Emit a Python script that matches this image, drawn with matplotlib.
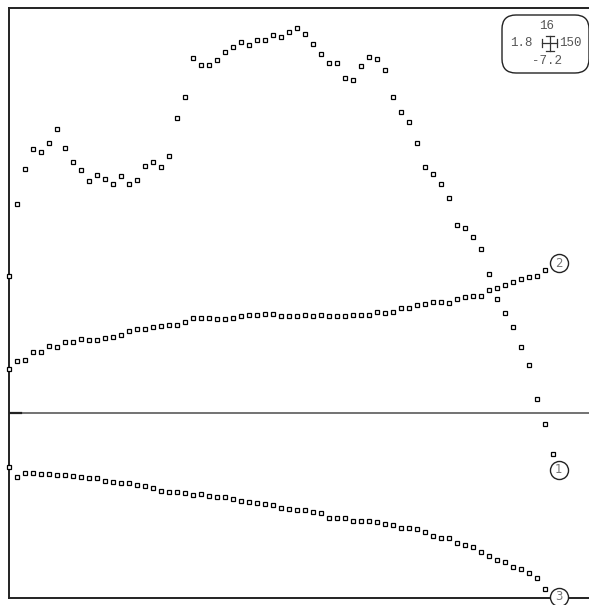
import matplotlib
matplotlib.use("Agg")
import matplotlib.pyplot as plt
from matplotlib.patches import FancyBboxPatch
import numpy as np

# values (regular index spacing on x)
series_1 = [5.41, 8.26, 9.64, 10.43, 10.32, 10.67, 11.23, 10.47, 9.92, 9.60,
            9.17, 9.41, 9.25, 9.05, 9.37, 9.05, 9.21, 9.76, 9.92, 9.72,
            10.16, 11.66, 12.49, 14.03, 13.75, 13.75, 13.95, 14.27, 14.47, 14.66,
            14.55, 14.74, 14.74, 14.94, 14.86, 15.06, 15.22, 14.98, 14.58, 14.19,
            13.83, 13.83, 13.24, 13.16, 13.72, 14.07, 13.99, 13.56, 12.49, 11.90,
            11.52, 10.67, 9.72, 9.45, 9.05, 8.50, 7.43, 7.31, 6.96, 6.48,
            5.49, 4.51, 3.95, 3.40, 2.61, 1.90, 0.55, -0.43, -1.62]
series_2 = [1.74, 2.06, 2.09, 2.41, 2.41, 2.65, 2.61, 2.81, 2.81, 2.92,
            2.89, 2.89, 2.96, 3.00, 3.08, 3.24, 3.32, 3.32, 3.40, 3.44,
            3.48, 3.48, 3.60, 3.75, 3.75, 3.75, 3.72, 3.72, 3.75, 3.83,
            3.87, 3.87, 3.91, 3.91, 3.83, 3.83, 3.83, 3.87, 3.83, 3.87,
            3.83, 3.83, 3.83, 3.87, 3.87, 3.87, 3.99, 3.95, 3.99, 4.15,
            4.15, 4.27, 4.31, 4.39, 4.39, 4.35, 4.51, 4.58, 4.62, 4.62,
            4.86, 4.94, 5.06, 5.18, 5.30, 5.38, 5.41, 5.65]
series_3 = [-2.13, -2.53, -2.37, -2.37, -2.41, -2.41, -2.45, -2.45, -2.49, -2.53,
            -2.57, -2.57, -2.69, -2.73, -2.77, -2.77, -2.85, -2.89, -2.96, -3.08,
            -3.12, -3.12, -3.16, -3.24, -3.20, -3.28, -3.32, -3.32, -3.40, -3.48,
            -3.52, -3.56, -3.60, -3.64, -3.75, -3.79, -3.83, -3.83, -3.91, -3.95,
            -4.15, -4.15, -4.15, -4.27, -4.27, -4.27, -4.31, -4.39, -4.43, -4.55,
            -4.55, -4.58, -4.70, -4.86, -4.94, -4.94, -5.14, -5.22, -5.30, -5.49,
            -5.65, -5.81, -5.89, -6.09, -6.17, -6.32, -6.52, -6.96]
series_labels = ["1", "2", "3"]
label_y = [-2.25, 5.93, -7.27]
scale_texts = ["16", "1.8", "150", "-7.2"]

W, H = 589, 605
fig = plt.figure(figsize=(W / 100, H / 100), dpi=100)
ax = fig.add_axes([9 / W, 7 / H, (W - 9) / W, 590 / H])

for ys in (series_1, series_2, series_3):
    ax.plot(np.arange(len(ys)), ys, "s", ms=3.5, mfc="white", mec="black",
            mew=0.9, clip_on=False, zorder=3)

ax.axhline(0, color="#5a5a5a", lw=1.2, zorder=1)
ax.plot([0, 1.5], [0, 0], color="#222222", lw=1.6, zorder=2)

# circled series numbers at the right end
for lab, ly in zip(series_labels, label_y):
    ax.plot([68.7], [ly], "o", ms=13, mfc="white", mec="#222222", mew=1.0,
            clip_on=False, zorder=5)
    ax.text(68.7, ly, lab, ha="center", va="center", fontsize=8.5,
            color="#777777", zorder=6, clip_on=False)

ax.set_xlim(0, 72.5)
ax.set_ylim(-7.31, 16.01)
ax.set_xticks([])
ax.set_yticks([])
ax.spines["right"].set_visible(False)
for s in ("left", "top", "bottom"):
    ax.spines[s].set_linewidth(1.4)
    ax.spines[s].set_color("#222222")

# scale key box, top right (inches from figure corner)
tr = fig.dpi_scale_trans
box = FancyBboxPatch((5.02, 6.05 - 0.73), 0.87, 0.58,
                     boxstyle="round,pad=0,rounding_size=0.14",
                     transform=tr, fc="white", ec="#222222", lw=1.0,
                     zorder=10)
fig.patches.append(box)
cx, cy = 5.495, 6.05 - 0.43
mono = dict(family="Liberation Mono", fontsize=9, color="#555555",
            transform=tr, zorder=11)
fig.text(cx - 0.03, 6.05 - 0.26, scale_texts[0], ha="center", va="center", **mono)
fig.text(cx - 0.17, cy, scale_texts[1], ha="right", va="center", **mono)
fig.text(cx + 0.10, cy, scale_texts[2], ha="left", va="center", **mono)
fig.text(cx - 0.03, 6.05 - 0.61, scale_texts[3], ha="center", va="center", **mono)
k = dict(color="#333333", lw=0.9, transform=tr, zorder=11)
for line in (
    ([cx, cx], [cy - 0.075, cy + 0.075]),
    ([cx - 0.04, cx + 0.04], [cy + 0.075, cy + 0.075]),
    ([cx - 0.04, cx + 0.04], [cy - 0.075, cy - 0.075]),
    ([cx - 0.075, cx + 0.075], [cy, cy]),
    ([cx - 0.075, cx - 0.075], [cy - 0.04, cy + 0.04]),
    ([cx + 0.075, cx + 0.075], [cy - 0.04, cy + 0.04]),
):
    fig.add_artist(plt.Line2D(line[0], line[1], **k))

fig.savefig("out.png", dpi=100)
